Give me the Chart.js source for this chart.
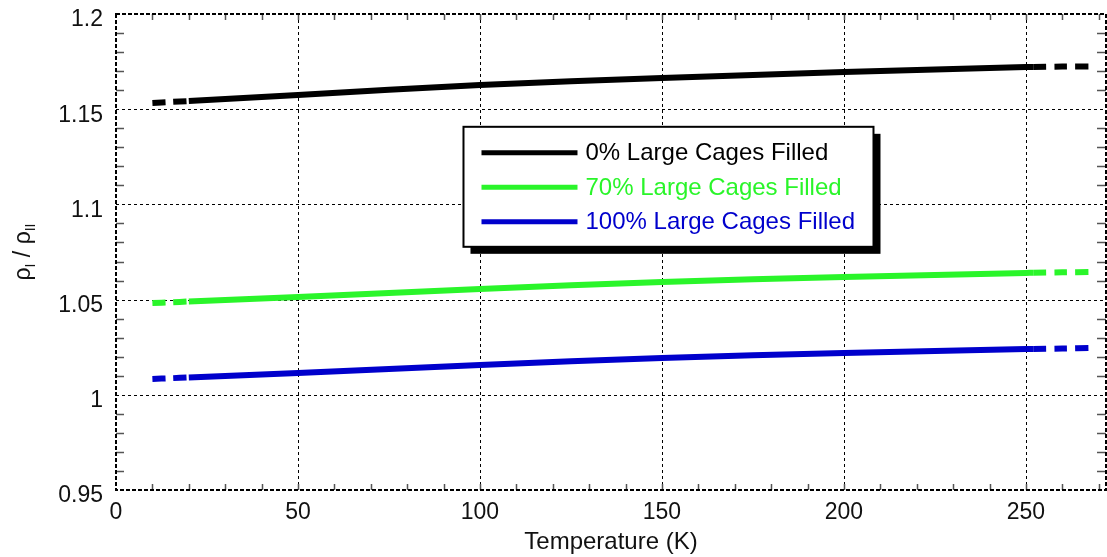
<!DOCTYPE html>
<html>
<head>
<meta charset="utf-8">
<script src="https://cdn.jsdelivr.net/npm/chart.js@4/dist/chart.umd.min.js"></script>
<style>
  html, body { margin: 0; background: #fff; }
</style>
</head>
<body>
<canvas id="densityChart" width="1107" height="557"></canvas>
<script>
/* data */
const temps = [10, 15, 20, 50, 100, 150, 200, 250, 252, 260, 268];
const filled0 = [1.1533, 1.1538, 1.1543, 1.1575, 1.1627, 1.1664, 1.1695, 1.1721, 1.1722, 1.1724, 1.1725];
const filled70 = [1.0482, 1.0486, 1.0490, 1.0514, 1.0556, 1.0592, 1.0619, 1.0640, 1.0641, 1.0643, 1.0645];
const filled100 = [1.0083, 1.0087, 1.0091, 1.0114, 1.0157, 1.0193, 1.0220, 1.0240, 1.0241, 1.0243, 1.0246];
const seriesLabels = ['0% Large Cages Filled', '70% Large Cages Filled', '100% Large Cages Filled'];
const seriesColors = ['#000000', '#2af52a', '#0000cc'];
const xTicks = [0, 50, 100, 150, 200, 250];
const yTicks = [0.95, 1, 1.05, 1.1, 1.15, 1.2];

const FONT = '"Liberation Sans", Arial, sans-serif';

function toPoints(ys) {
  return temps.map((t, i) => ({ x: t, y: ys[i] }));
}

// dashed where the curve is extrapolated (below 20 K / above 252 K)
const dashSeg = ctx => (ctx.p1.parsed.x <= 20 || ctx.p0.parsed.x >= 252) ? [13, 8] : undefined;

const datasets = [filled0, filled70, filled100].map((ys, i) => ({
  label: seriesLabels[i],
  data: toPoints(ys),
  borderColor: seriesColors[i],
  borderWidth: 6,
  pointRadius: 0,
  tension: 0.3,
  borderCapStyle: 'butt',
  segment: { borderDash: dashSeg }
}));

// drop the label overhang padding so the plot box sits where the reference has it
function noPad(s) {
  s.paddingTop = 0; s.paddingBottom = 0; s.paddingLeft = 0; s.paddingRight = 0;
}

/* grid, minor ticks, frame, legend box, axis titles */
const framePlugin = {
  id: 'frame',
  beforeDatasetsDraw(chart) {
    const { ctx, chartArea: a, scales: { x, y } } = chart;
    ctx.save();
    ctx.strokeStyle = '#000';
    ctx.lineWidth = 1;
    ctx.setLineDash([3, 3]);
    xTicks.forEach(v => {
      if (v === 0) return;
      const px = Math.round(x.getPixelForValue(v)) + 0.5;
      ctx.beginPath(); ctx.moveTo(px, a.top); ctx.lineTo(px, a.bottom); ctx.stroke();
    });
    yTicks.forEach(v => {
      if (v === 0.95 || v === 1.2) return;
      const py = Math.round(y.getPixelForValue(v)) + 0.5;
      ctx.beginPath(); ctx.moveTo(a.left, py); ctx.lineTo(a.right, py); ctx.stroke();
    });
    ctx.restore();
  },
  afterDatasetsDraw(chart) {
    const { ctx, chartArea: a, scales: { x, y } } = chart;
    ctx.save();

    // minor ticks
    ctx.strokeStyle = '#555';
    ctx.lineWidth = 1.5;
    ctx.setLineDash([]);
    for (let v = 10; v < 272; v += 10) {
      const px = Math.round(x.getPixelForValue(v)) + 0.5;
      ctx.beginPath();
      ctx.moveTo(px, a.bottom); ctx.lineTo(px, a.bottom - 6);
      ctx.moveTo(px, a.top); ctx.lineTo(px, a.top + 6);
      ctx.stroke();
    }
    for (let k = 96; k < 120; k++) {
      if (k % 5 === 0) continue;
      const py = Math.round(y.getPixelForValue(k / 100)) + 0.5;
      ctx.beginPath();
      ctx.moveTo(a.left, py); ctx.lineTo(a.left + 8, py);
      ctx.moveTo(a.right, py); ctx.lineTo(a.right - 9, py);
      ctx.stroke();
    }

    // frame
    ctx.strokeStyle = '#000';
    ctx.lineWidth = 2;
    ctx.setLineDash([4, 2]);
    ctx.strokeRect(a.left, a.top, a.right - a.left, a.bottom - a.top);
    ctx.setLineDash([]);

    // legend box with drop shadow
    const bx = a.left + (a.right - a.left) * 0.351;
    const by = a.top + (a.bottom - a.top) * 0.237;
    const bw = 410, bh = 120;
    ctx.fillStyle = '#000';
    ctx.fillRect(bx + 7, by + 7, bw, bh);
    ctx.fillStyle = '#fff';
    ctx.fillRect(bx, by, bw, bh);
    ctx.lineWidth = 2;
    ctx.strokeRect(bx, by, bw, bh);
    ctx.font = '24px ' + FONT;
    ctx.textBaseline = 'middle';
    ctx.textAlign = 'left';
    chart.data.datasets.forEach((ds, i) => {
      const ly = by + 26 + i * 34.5;
      ctx.strokeStyle = ds.borderColor;
      ctx.lineWidth = 5;
      ctx.beginPath(); ctx.moveTo(bx + 18, ly); ctx.lineTo(bx + 114, ly); ctx.stroke();
      ctx.fillStyle = ds.borderColor;
      ctx.fillText(ds.label, bx + 122, ly + 1);
    });

    // x title
    ctx.fillStyle = '#111';
    ctx.font = '24px ' + FONT;
    ctx.textAlign = 'center';
    ctx.textBaseline = 'middle';
    ctx.fillText('Temperature (K)', (a.left + a.right) / 2, 542);

    // y title with subscripts: rho_I / rho_II
    ctx.translate(24, (a.top + a.bottom) / 2);
    ctx.rotate(-Math.PI / 2);
    const parts = [['ρ', 23, 0], ['I', 14, 7], [' / ', 23, 0], ['ρ', 23, 0], ['II', 14, 7]];
    let total = 0;
    parts.forEach(p => { ctx.font = p[1] + 'px ' + FONT; total += ctx.measureText(p[0]).width; });
    let cx = -total / 2;
    ctx.textAlign = 'left';
    parts.forEach(p => {
      ctx.font = p[1] + 'px ' + FONT;
      ctx.fillText(p[0], cx, p[2]);
      cx += ctx.measureText(p[0]).width;
    });
    ctx.restore();
  }
};

const chart = new Chart(document.getElementById('densityChart'), {
  type: 'line',
  data: { datasets },
  options: {
    responsive: false,
    animation: false,
    devicePixelRatio: 1,
    layout: { padding: { top: 14, right: 1, left: 0, bottom: 0 } },
    plugins: { legend: { display: false }, tooltip: { enabled: false } },
    scales: {
      x: {
        type: 'linear',
        min: 0, max: 272,
        grid: { display: false, drawTicks: false },
        border: { display: false },
        afterFit: s => { s.height = 67; noPad(s); },
        afterBuildTicks: s => { s.ticks = xTicks.map(v => ({ value: v })); },
        ticks: { color: '#111', font: { family: FONT, size: 23 }, padding: 9, maxRotation: 0, autoSkip: false }
      },
      y: {
        min: 0.95, max: 1.2,
        grid: { display: false, drawTicks: false },
        border: { display: false },
        afterFit: s => { s.width = 116; noPad(s); },
        afterBuildTicks: s => { s.ticks = yTicks.map(v => ({ value: v })); },
        ticks: {
          color: '#111', font: { family: FONT, size: 23 }, padding: 13, labelOffset: 6, autoSkip: false,
          callback: v => String(+v.toFixed(2))
        }
      }
    }
  },
  plugins: [framePlugin]
});
</script>
</body>
</html>
